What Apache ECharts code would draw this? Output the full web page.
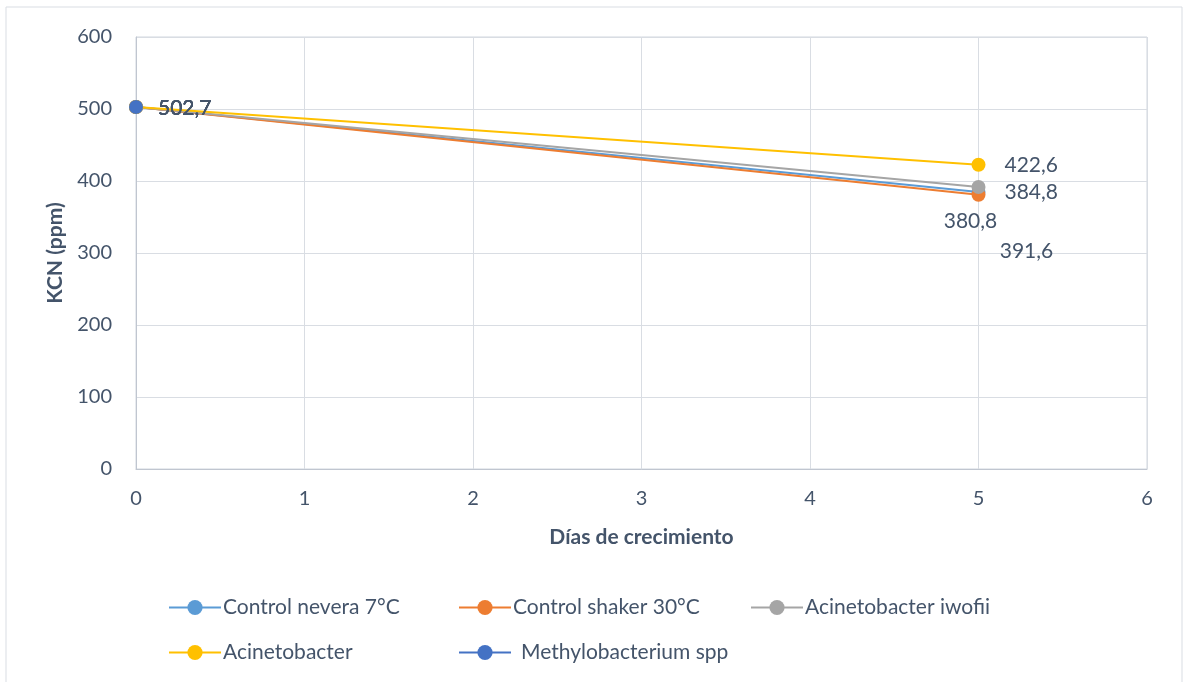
<!DOCTYPE html>
<html>
<head>
<meta charset="utf-8">
<script src="https://cdn.jsdelivr.net/npm/echarts@6/dist/echarts.min.js"></script>
<style>
  html, body { margin: 0; padding: 0; background: #ffffff; }
  #chart { width: 1186px; height: 682px; }
</style>
</head>
<body>
<div id="chart"></div>
<script>
// Días de crecimiento (x) and KCN concentration (ppm)
const days = [0, 5];
const seriesNames = [
  'Control nevera 7°C',
  'Control shaker 30°C',
  'Acinetobacter iwofii',
  'Acinetobacter',
  'Methylobacterium spp'
];
const controlNevera = [502.7, 384.8];
const controlShaker = [502.7, 380.8];
const acinetobacterIwofii = [502.7, 391.6];
const acinetobacter = [502.7, 422.6];
const methylobacterium = [502.7];
const yTicks = { min: 0, max: 600, interval: 100 };
const xTicks = { min: 0, max: 6, interval: 1 };

const colors = ['#5b9bd5', '#ed7d31', '#a5a5a5', '#ffc000', '#4472c4'];
const textColor = '#44546a';
const font = 'Lato, "Open Sans", sans-serif';

function fmt(v) { return String(v).replace('.', ','); }

// label placement for the end-point value of each series
const endLabels = [
  { position: 'right', offset: [14, 0] },
  { position: 'bottom', offset: [-8, 4] },
  { position: 'bottom', offset: [48, 42] },
  { position: 'right', offset: [14, 1] },
  null
];

const allValues = [controlNevera, controlShaker, acinetobacterIwofii, acinetobacter, methylobacterium];

const series = allValues.map((vals, si) => ({
  name: seriesNames[si],
  type: 'line',
  symbol: 'circle',
  symbolSize: 14,
  color: colors[si],
  lineStyle: { width: 2, color: colors[si] },
  itemStyle: { color: colors[si] },
  z: 2 + si,
  data: vals.map((v, i) => {
    const item = { value: [days[i], v] };
    const lab = i === 0 ? { position: 'right', offset: [10, 1] } : endLabels[si];
    if (lab) {
      item.label = {
        show: true,
        position: lab.position,
        offset: lab.offset,
        formatter: p => fmt(p.value[1]),
        color: textColor,
        fontSize: 21,
        fontFamily: font
      };
    }
    return item;
  })
}));

// legend item slots: two rows
const legendSlots = [
  { left: 163, top: 592, pad: -3 },
  { left: 453, top: 592, pad: -3 },
  { left: 745, top: 592, pad: -3 },
  { left: 163, top: 637, pad: -3 },
  { left: 453, top: 637, pad: 5 }
];

const chart = echarts.init(document.getElementById('chart'), null, { renderer: 'canvas' });
chart.setOption({
  backgroundColor: '#ffffff',
  animation: false,
  graphic: [{
    type: 'rect',
    shape: { x: 6, y: 7, width: 1176, height: 690 },
    style: { fill: 'none', stroke: '#d9dde3', lineWidth: 1 },
    silent: true,
    z: -1
  }],
  grid: { left: 136, right: 39, top: 37, bottom: 213, show: true, borderColor: '#d0d6df', borderWidth: 1 },
  legend: legendSlots.map((s, i) => ({
    data: [seriesNames[i]],
    left: s.left,
    top: s.top,
    itemWidth: 52,
    itemHeight: 19,
    itemGap: 6,
    textStyle: { color: textColor, fontSize: 21, fontFamily: font, padding: [0, 0, 0, s.pad] }
  })),
  xAxis: {
    type: 'value',
    min: xTicks.min,
    max: xTicks.max,
    interval: xTicks.interval,
    name: 'Días de crecimiento',
    nameLocation: 'middle',
    nameGap: 58,
    nameTextStyle: { color: textColor, fontSize: 21, fontWeight: 'bold', fontFamily: font },
    axisLine: { show: true, lineStyle: { color: '#c0c6d0', width: 1 } },
    axisTick: { show: false },
    splitLine: { show: true, lineStyle: { color: '#d9dde3', width: 1 } },
    axisLabel: { color: textColor, fontSize: 20, fontFamily: font, margin: 20 }
  },
  yAxis: {
    type: 'value',
    min: yTicks.min,
    max: yTicks.max,
    interval: yTicks.interval,
    name: 'KCN (ppm)',
    nameLocation: 'middle',
    nameRotate: 90,
    nameGap: 70,
    nameTextStyle: { color: textColor, fontSize: 21, fontWeight: 'bold', fontFamily: font },
    axisLine: { show: true, lineStyle: { color: '#c0c6d0', width: 1 } },
    axisTick: { show: false },
    splitLine: { show: true, lineStyle: { color: '#d9dde3', width: 1 } },
    axisLabel: { color: textColor, fontSize: 20, fontFamily: font, margin: 24 }
  },
  series: series
});
</script>
</body>
</html>
